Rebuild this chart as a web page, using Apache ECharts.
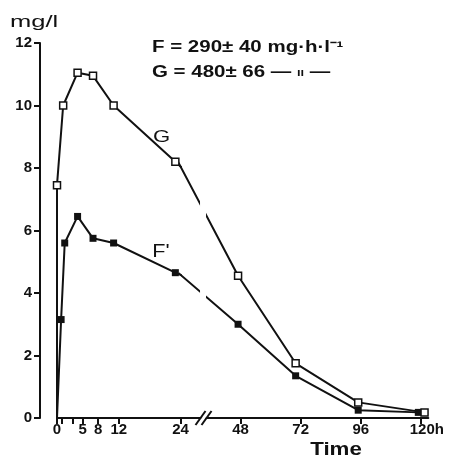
<!DOCTYPE html>
<html><head><meta charset="utf-8">
<script src="https://cdn.jsdelivr.net/npm/echarts@6/dist/echarts.min.js"></script>
<style>html,body{margin:0;padding:0;background:#fff}#c{width:452px;height:460px}</style>
</head><body><div id="c"></div>
<script>
// ---- data ----
const fTimes  = [0, 0.8, 1.5, 4, 7, 11, 23, 47, 70, 95, 119];
const fValues = [0, 3.15, 5.6, 6.45, 5.75, 5.6, 4.65, 3.0, 1.35, 0.25, 0.18];
const gTimes  = [0, 0, 1.2, 4, 7, 11, 23, 47, 70, 95, 121.5];
const gValues = [0, 7.45, 10.0, 11.05, 10.95, 10.0, 8.2, 4.55, 1.75, 0.5, 0.18];
const earlyTicks  = [0, 1, 3, 5, 8, 12, 24];
const earlyLabels = [0, 5, 8, 12, 24];
const lateTicks   = [48, 72, 96, 120];
const yLabelUnit = 'mg/l';
const timeName = 'Time';
const fAnnotation = 'F = 290\u00b1 40 mg\u00b7h\u00b7l\u207b\u00b9';
const gAnnotation = 'G = 480\u00b1 66 \u2014 {d|\u0131\u0131} \u2014';
const fName = "F'";
const gName = 'G';
const breakAt = 32.8;

const INK = '#111';
const FONT = 'Liberation Sans';
const chart = echarts.init(document.getElementById('c'), null, {renderer: 'canvas'});

function pts(ts, vs) {
  return ts.map((t, i) => (t === 0 && vs[i] === 0) ? {value: [t, vs[i]], symbol: 'none'} : {value: [t, vs[i]]});
}
const fData = pts(fTimes, fValues);
const gData = pts(gTimes, gValues);

const labelStyle = {color: INK, fontSize: 15, fontWeight: 'bold', fontFamily: FONT};
const axisLineStyle = {color: INK, width: 2};

function lineSeries(name, data, xi, filled) {
  return {
    name, type: 'line', xAxisIndex: xi, yAxisIndex: xi, data,
    symbol: 'rect', symbolSize: 7, clip: true, animation: false,
    lineStyle: {color: INK, width: 2},
    itemStyle: filled ? {color: INK} : {color: '#fff', borderColor: INK, borderWidth: 1.5},
    z: 3
  };
}

chart.setOption({
  backgroundColor: '#fff',
  animation: false,
  grid: [
    {left: 57, top: 43, width: 123.5, height: 375},
    {left: 180.5, top: 43, width: 247.8, height: 375}
  ],
  xAxis: [
    {gridIndex: 0, type: 'value', min: 0, max: 24,
     axisLine: {show: true, lineStyle: axisLineStyle},
     axisTick: {show: true, customValues: earlyTicks, length: 6, lineStyle: axisLineStyle},
     axisLabel: Object.assign({customValues: earlyLabels, margin: 4}, labelStyle),
     splitLine: {show: false}},
    {gridIndex: 1, type: 'value', min: 24, max: 123,
     axisLine: {show: true, lineStyle: axisLineStyle},
     axisTick: {show: true, customValues: lateTicks, length: 6, lineStyle: axisLineStyle},
     axisLabel: Object.assign({customValues: lateTicks, margin: 4,
       formatter: v => v === 120 ? '{pad|}' + v + 'h' : String(v),
       rich: {pad: {width: 12}}}, labelStyle),
     splitLine: {show: false}}
  ],
  yAxis: [
    {gridIndex: 0, type: 'value', min: 0, max: 12, interval: 2, offset: 17,
     axisLine: {show: true, onZero: false, lineStyle: axisLineStyle},
     axisTick: {show: true, length: 6, lineStyle: axisLineStyle},
     axisLabel: Object.assign({margin: 8}, labelStyle),
     splitLine: {show: false}},
    {gridIndex: 1, type: 'value', min: 0, max: 12, show: false}
  ],
  series: [
    lineSeries('F', fData, 0, true),
    lineSeries('F', fData, 1, true),
    lineSeries('G', gData, 0, false),
    lineSeries('G', gData, 1, false)
  ]
});

const bx = chart.convertToPixel({xAxisIndex: 1}, breakAt);
const by = chart.convertToPixel({yAxisIndex: 1}, 0);
const topY = chart.convertToPixel({yAxisIndex: 1}, 12);

function txt(text, x, y, size, weight, align, sx, rich) {
  const style = {text, fill: INK, fontSize: size, fontFamily: FONT, fontWeight: weight,
                 align: align, verticalAlign: 'middle'};
  if (rich) style.rich = rich;
  return {type: 'text', x, y, z: 200, scaleX: sx, style};
}
const g = [
  // gap of the curves at the axis break
  {type: 'rect', z: 100, shape: {x: bx - 2.5, y: topY, width: 6, height: by - topY - 4}, style: {fill: '#fff'}},
  // break mark on the axis
  {type: 'polygon', z: 101, shape: {points: [[bx - 6, by + 7], [bx + 4, by - 7], [bx + 8, by - 7], [bx - 2, by + 7]]}, style: {fill: '#fff'}},
  {type: 'line', z: 102, shape: {x1: bx - 7, y1: by + 7, x2: bx + 3, y2: by - 7}, style: {stroke: INK, lineWidth: 2}},
  {type: 'line', z: 102, shape: {x1: bx - 1, y1: by + 7, x2: bx + 9, y2: by - 7}, style: {stroke: INK, lineWidth: 2}},
  txt(yLabelUnit, 10, 22, 17, 'normal', 'left', 1.5),
  txt(fAnnotation, 152, 48, 16, 'bold', 'left', 1.28),
  txt(gAnnotation, 152, 73, 16, 'bold', 'left', 1.28, {d: {fontSize: 10, fontWeight: 'bold', fontFamily: FONT, fill: INK}}),
  txt(gName, 161.5, 137, 17, 'normal', 'center', 1.3),
  txt(fName, 161, 252.5, 18, 'normal', 'center', 1.2),
  txt(timeName, 336, 450.5, 18, 'bold', 'center', 1.24)
];
chart.setOption({graphic: g});
</script>
</body></html>
